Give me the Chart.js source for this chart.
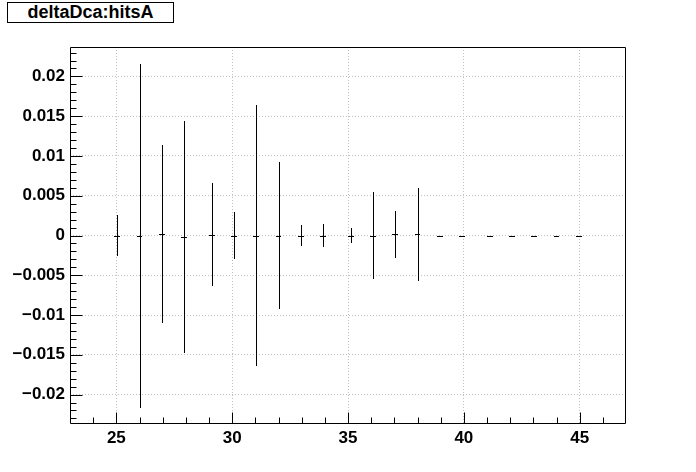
<!DOCTYPE html>
<html>
<head>
<meta charset="utf-8">
<script src="https://cdn.jsdelivr.net/npm/chart.js@4.4.1/dist/chart.umd.min.js"></script>
<style>
  html, body { margin: 0; padding: 0; background: #fff; }
  #wrap { position: relative; width: 696px; height: 472px; }
  #title {
    position: absolute; left: 7px; top: 2px; width: 165px; height: 19px;
    border: 1px solid #000; background: #fff;
    font: bold 18px "Liberation Sans", Arial, sans-serif; color: #000;
    text-align: center; line-height: 19px;
  }
</style>
</head>
<body>
<div id="wrap">
  <canvas id="c" width="696" height="472"></canvas>
  <div id="title">deltaDca:hitsA</div>
</div>
<script>
// Profile bin centres (hitsA)
const binCenters = [25.04, 26.0, 26.96, 27.92, 29.12, 30.08, 31.04, 32.0, 32.96, 33.92, 35.12, 36.08, 37.04, 38.0, 38.96, 39.92, 41.12, 42.08, 43.04, 44.0, 44.96];
// Mean deltaDca per bin
const meanValues = [0, -0.0001, 0.00014, -0.00018, 0.0001, 0, 0, 0, 0, 0, 0, 0, 0.00013, 0.00013, 0, 0, 0, 0, 0, 0, 0];
// Error on the mean per bin
const errorValues = [0.0026, 0.0216, 0.0112, 0.0146, 0.0065, 0.0029, 0.0164, 0.0092, 0.0013, 0.0014, 0.001, 0.0055, 0.0029, 0.0058, 0, 0, 0, 0, 0, 0, 0];
// Half bin width
const halfBinWidth = 0.12;
// Axis tick labels
const xTickLabels = [25, 30, 35, 40, 45];
const yTickLabels = [-0.02, -0.015, -0.01, -0.005, 0, 0.005, 0.01, 0.015, 0.02];

const points = binCenters.map((x, i) => ({ x: x, y: meanValues[i] }));

const rootStyle = {
  id: 'rootStyle',
  afterDatasetsDraw(chart) {
    const ctx = chart.ctx;
    const xs = chart.scales.x, ys = chart.scales.y;
    const a = chart.chartArea;
    ctx.save();
    ctx.beginPath();
    ctx.rect(a.left, a.top, a.right - a.left, a.bottom - a.top);
    ctx.clip();
    ctx.strokeStyle = '#000';
    ctx.lineWidth = 1;
    ctx.beginPath();
    for (let i = 0; i < binCenters.length; i++) {
      const px = Math.round(xs.getPixelForValue(binCenters[i])) + 0.5;
      const py = Math.round(ys.getPixelForValue(meanValues[i])) + 0.5;
      const x0 = xs.getPixelForValue(binCenters[i] - halfBinWidth);
      const x1 = xs.getPixelForValue(binCenters[i] + halfBinWidth);
      ctx.moveTo(Math.round(x0), py);
      ctx.lineTo(Math.round(x1), py);
      if (errorValues[i] > 0) {
        const yt = Math.round(ys.getPixelForValue(meanValues[i] + errorValues[i]));
        const yb = Math.round(ys.getPixelForValue(meanValues[i] - errorValues[i]));
        ctx.moveTo(px, yt);
        ctx.lineTo(px, yb);
      }
    }
    ctx.stroke();
    ctx.restore();
  },
  afterDraw(chart) {
    const ctx = chart.ctx;
    const xs = chart.scales.x, ys = chart.scales.y;
    const a = chart.chartArea;
    const L = Math.round(a.left) + 0.5, R = Math.round(a.right) - 0.5;
    const T = Math.round(a.top) + 0.5, B = Math.round(a.bottom) - 0.5;
    ctx.save();
    ctx.strokeStyle = '#000';
    ctx.lineWidth = 1;
    ctx.beginPath();
    ctx.rect(L, T, R - L, B - T);
    // y ticks (minor every 0.001, major every 0.005)
    for (let k = Math.ceil(ys.min / 0.001); k <= Math.floor(ys.max / 0.001); k++) {
      const v = k * 0.001;
      const py = Math.round(ys.getPixelForValue(v)) + 0.5;
      if (py <= T || py >= B) continue;
      const len = (k % 5 === 0) ? 12 : 6;
      ctx.moveTo(L, py);
      ctx.lineTo(L + len, py);
    }
    // x ticks (minor every 1, major every 5)
    for (let k = Math.ceil(xs.min); k <= Math.floor(xs.max); k++) {
      const px = Math.round(xs.getPixelForValue(k)) + 0.5;
      if (px <= L || px >= R) continue;
      const len = (k % 5 === 0) ? 11 : 6;
      ctx.moveTo(px, B);
      ctx.lineTo(px, B - len);
    }
    ctx.stroke();
    ctx.restore();
  }
};

const tickFont = { family: '"Liberation Sans", Arial, sans-serif', size: 17, weight: 'bold' };

new Chart(document.getElementById('c'), {
  type: 'scatter',
  data: {
    datasets: [{
      data: points,
      pointRadius: 0,
      pointHoverRadius: 0,
      showLine: false
    }]
  },
  options: {
    responsive: false,
    animation: false,
    events: [],
    layout: { padding: { top: 47, right: 70, left: 0, bottom: 0 } },
    plugins: { legend: { display: false }, tooltip: { enabled: false }, title: { display: false } },
    scales: {
      x: {
        type: 'linear',
        min: 23, max: 47,
        afterFit(scale) { scale.height = 48; },
        afterBuildTicks(scale) { scale.ticks = xTickLabels.map(v => ({ value: v })); },
        border: { display: false, dash: [1, 2] },
        grid: { color: '#c0c0c0', drawTicks: false, lineWidth: 1 },
        ticks: {
          font: tickFont, color: '#000', padding: 4, autoSkip: false, maxRotation: 0,
          callback: v => String(v)
        }
      },
      y: {
        type: 'linear',
        min: -0.0237, max: 0.0237,
        afterFit(scale) { scale.width = 70; },
        afterBuildTicks(scale) { scale.ticks = yTickLabels.map(v => ({ value: v })); },
        border: { display: false, dash: [1, 2] },
        grid: { color: '#c0c0c0', drawTicks: false, lineWidth: 1 },
        ticks: {
          font: tickFont, color: '#000', padding: 5, autoSkip: false,
          callback: v => String(Math.round(v * 1000) / 1000).replace('-', '\u2212')
        }
      }
    }
  },
  plugins: [rootStyle]
});
</script>
</body>
</html>
